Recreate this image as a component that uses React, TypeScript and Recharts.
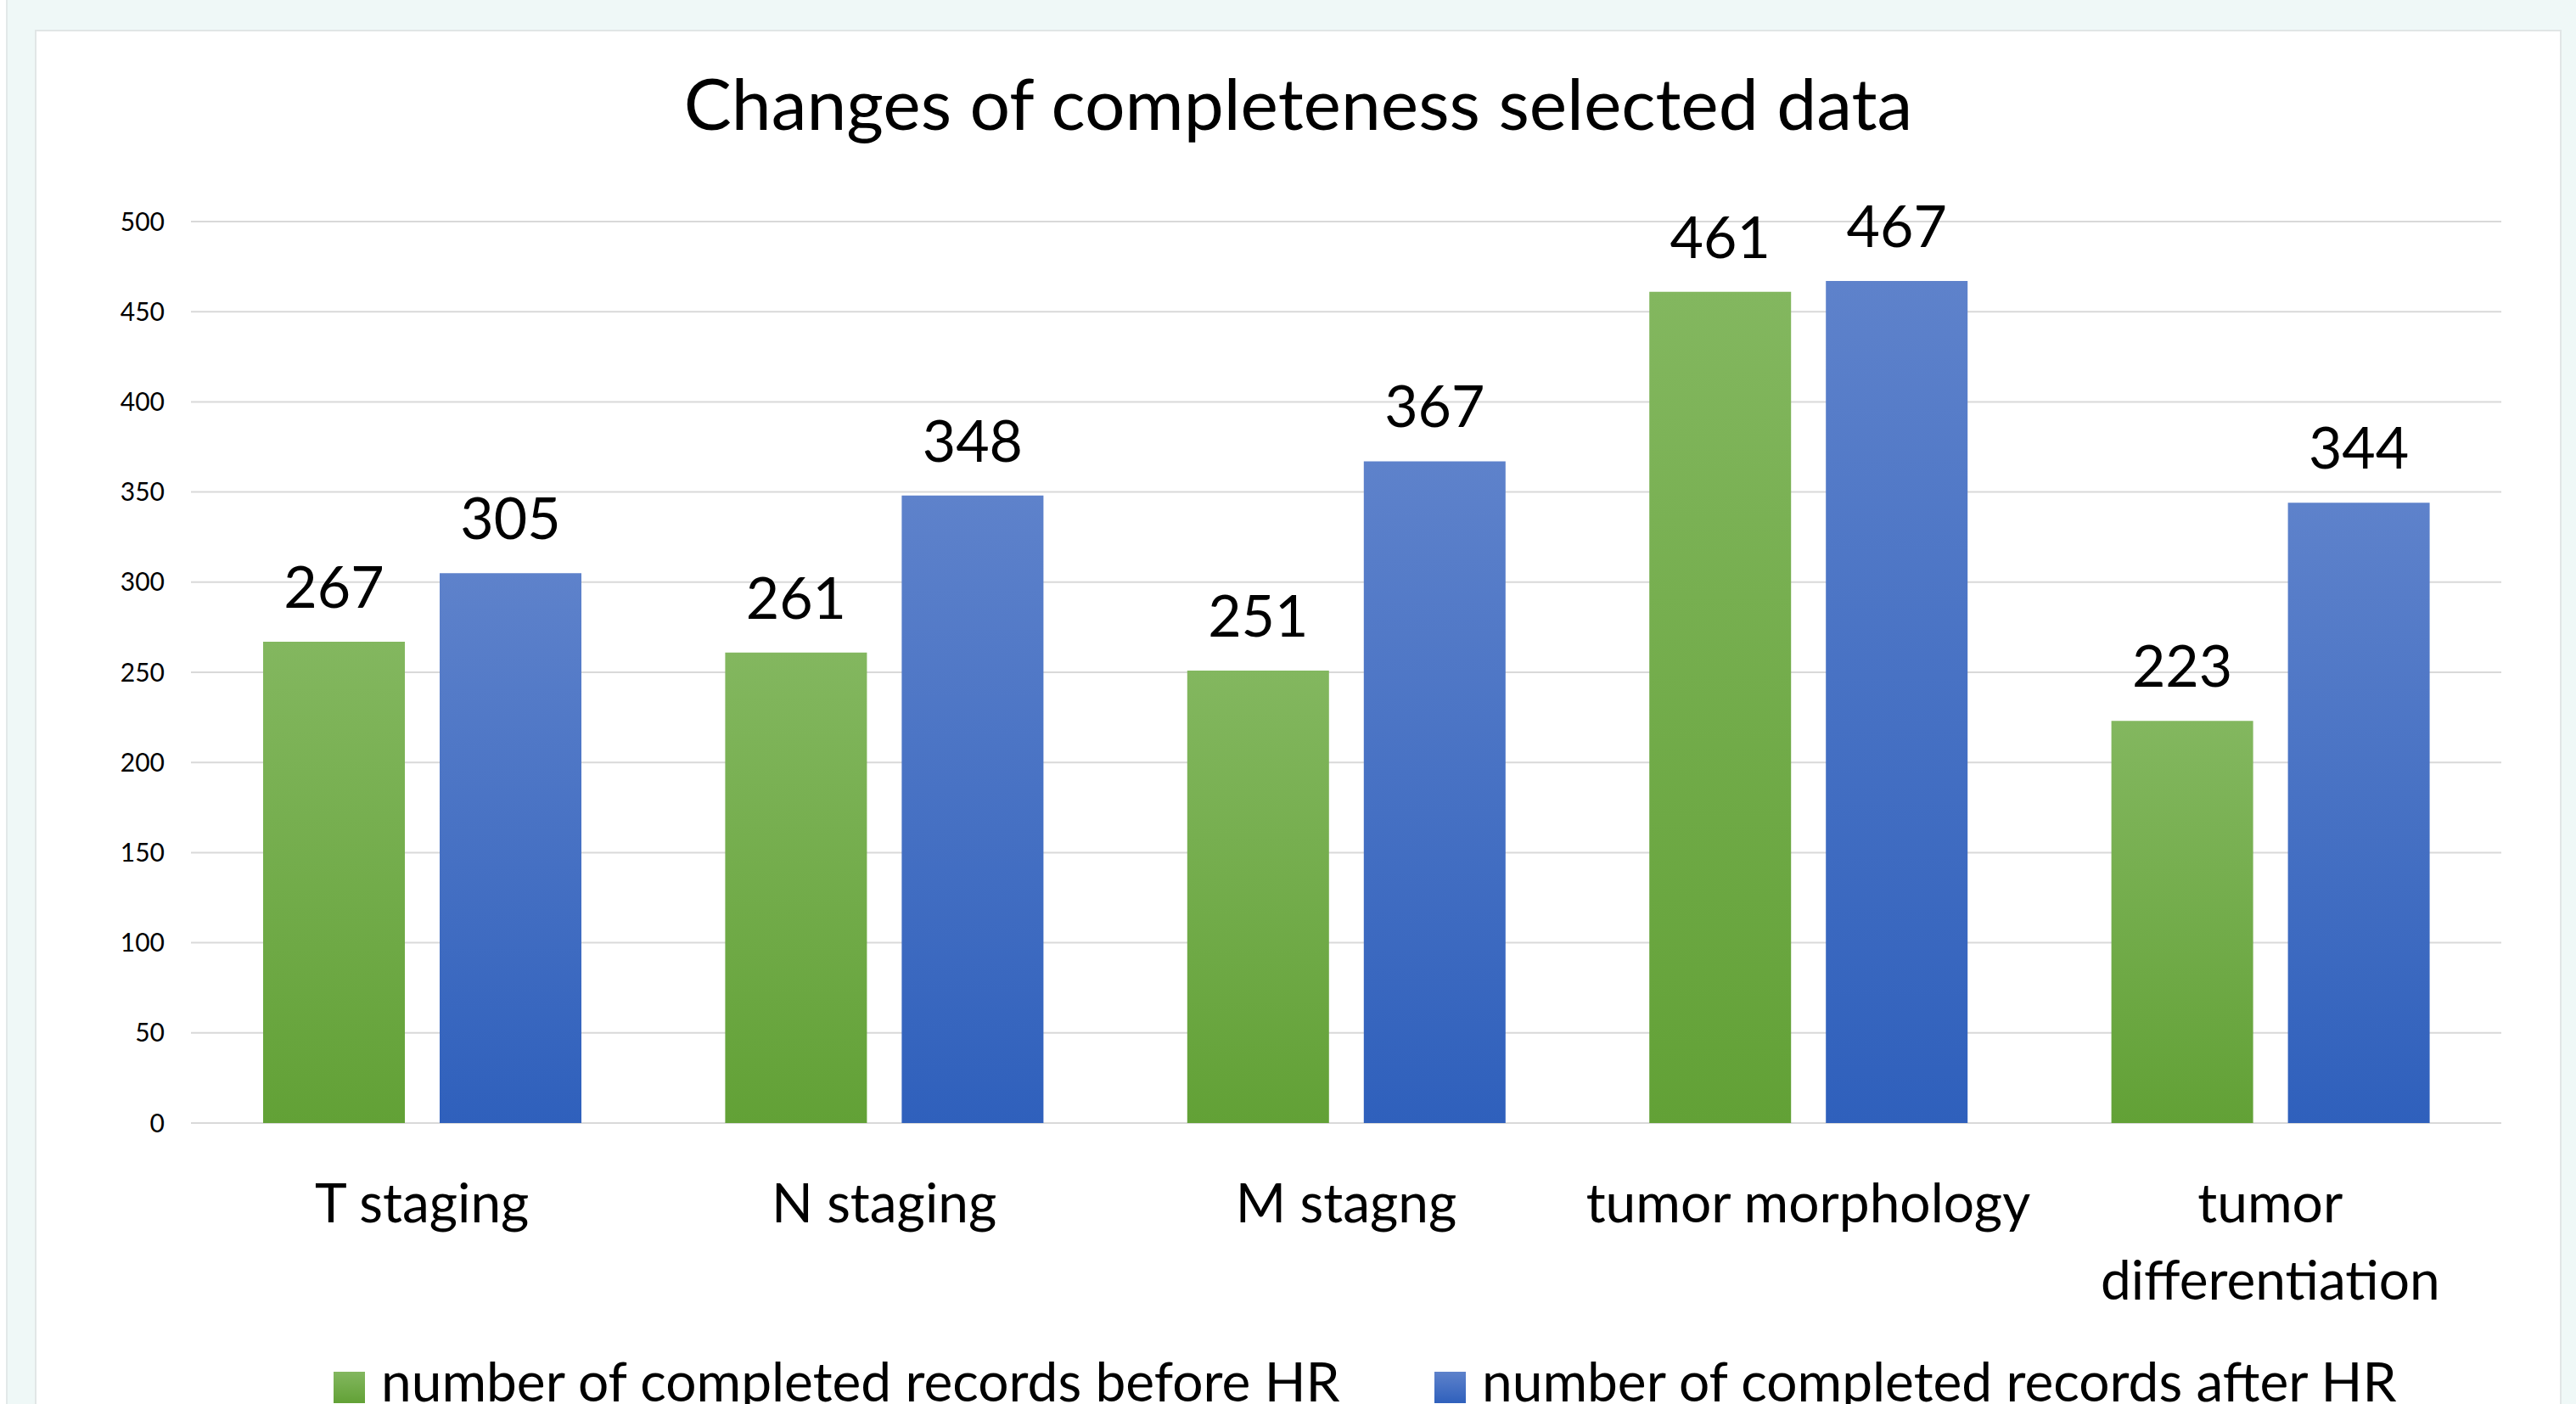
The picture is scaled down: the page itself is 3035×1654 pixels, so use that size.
import {
  Bar,
  BarChart,
  CartesianGrid,
  LabelList,
  Legend,
  XAxis,
  YAxis,
} from "recharts";

const categories = [
  "T staging",
  "N staging",
  "M stagng",
  "tumor morphology",
  "tumor\ndifferentiation",
];
const beforeHR = [267, 261, 251, 461, 223];
const afterHR = [305, 348, 367, 467, 344];
const yTicks = [0, 50, 100, 150, 200, 250, 300, 350, 400, 450, 500];
const seriesNames = [
  "number of completed records before HR",
  "number of completed records after HR",
];

const data = categories.map((name, i) => ({
  name,
  before: beforeHR[i],
  after: afterHR[i],
}));

const FONT = "Lato, 'Open Sans', sans-serif";

const CategoryTick = (props: any) => {
  const { x, y, payload } = props;
  const lines = String(payload.value).split("\n");
  return (
    <text x={x} y={y} textAnchor="middle" fontFamily={FONT} fontSize={64} fill="#000">
      {lines.map((line, i) => (
        <tspan key={i} x={x} dy={i === 0 ? 117 : 91}>
          {line}
        </tspan>
      ))}
    </text>
  );
};

const swatches = [
  "linear-gradient(#83b75f, #62a136)",
  "linear-gradient(#5e82cb, #2f60bc)",
];

const renderLegend = () => (
  <div style={{ display: "flex", alignItems: "center", paddingLeft: 350, fontFamily: FONT }}>
    {seriesNames.map((n, i) => (
      <div
        key={n}
        style={{ display: "flex", alignItems: "center", width: i === 0 ? 1297 : "auto" }}
      >
        <span style={{ width: 37, height: 37, background: swatches[i], marginTop: 14 }} />
        <span style={{ marginLeft: 19, fontSize: 64, color: "#000", lineHeight: 1 }}>{n}</span>
      </div>
    ))}
  </div>
);

const App = () => {
  return (
    <div
      style={{
        position: "absolute",
        top: 0,
        left: 0,
        width: 3035,
        height: 1654,
        overflow: "hidden",
        background: "#eff8f7",
      }}
    >
      <div
        style={{
          position: "absolute",
          left: 0,
          top: 0,
          width: 7,
          height: 1654,
          background: "#fff",
          borderRight: "2px solid #e3e9e9",
        }}
      />
      <div
        style={{
          position: "absolute",
          left: 41,
          top: 35,
          width: 2977,
          height: 1720,
          background: "#fff",
          border: "2px solid #e1e6e6",
          boxSizing: "border-box",
        }}
      >
        <div
          style={{
            position: "absolute",
            top: 0,
            left: 0,
            width: 2973,
            textAlign: "center",
            fontFamily: FONT,
            fontSize: 84,
            lineHeight: "168px",
            color: "#000",
          }}
        >
          Changes of completeness selected data
        </div>
        <BarChart
          width={2973}
          height={1716}
          data={data}
          margin={{ top: 224, right: 69, left: 0, bottom: 170 }}
          barSize={167}
          barGap={41}
        >
          <defs>
            <linearGradient id="gGreen" x1="0" y1="0" x2="0" y2="1">
              <stop offset="0%" stopColor="#83b75f" />
              <stop offset="100%" stopColor="#62a136" />
            </linearGradient>
            <linearGradient id="gBlue" x1="0" y1="0" x2="0" y2="1">
              <stop offset="0%" stopColor="#5e82cb" />
              <stop offset="100%" stopColor="#2f60bc" />
            </linearGradient>
          </defs>
          <CartesianGrid vertical={false} stroke="#d9d9d9" strokeWidth={2} />
          <XAxis
            dataKey="name"
            axisLine={false}
            tickLine={false}
            tickSize={0}
            tickMargin={0}
            height={260}
            interval={0}
            tick={<CategoryTick />}
          />
          <YAxis
            width={182}
            domain={[0, 500]}
            ticks={yTicks}
            axisLine={false}
            tickLine={false}
            tickSize={0}
            tickMargin={31}
            tick={{ fontFamily: FONT, fontSize: 30, fill: "#000" }}
          />
          <Legend
            verticalAlign="middle"
            content={renderLegend}
            wrapperStyle={{ top: 1558, left: 0, width: 2973 }}
          />
          <Bar dataKey="before" name={seriesNames[0]} fill="url(#gGreen)" isAnimationActive={false}>
            <LabelList
              dataKey="before"
              position="top"
              offset={40}
              style={{ fontFamily: FONT, fontSize: 68, fill: "#000" }}
            />
          </Bar>
          <Bar dataKey="after" name={seriesNames[1]} fill="url(#gBlue)" isAnimationActive={false}>
            <LabelList
              dataKey="after"
              position="top"
              offset={40}
              style={{ fontFamily: FONT, fontSize: 68, fill: "#000" }}
            />
          </Bar>
        </BarChart>
      </div>
    </div>
  );
};

export default App;
